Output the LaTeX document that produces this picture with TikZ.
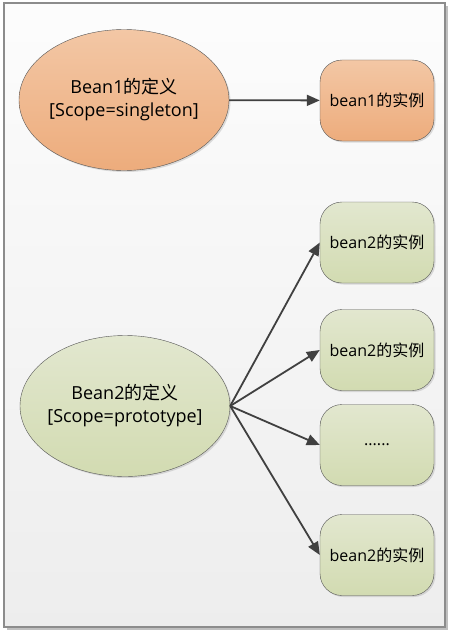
\documentclass[tikz,border=0pt]{standalone}
\usepackage{fontspec}
\setmainfont{Open Sans}
\newfontfamily\zh{Noto Sans CJK SC}
\usetikzlibrary{arrows.meta,shapes.geometric,shadows}
\definecolor{orangetop}{HTML}{F3C7A5}
\definecolor{orangebot}{HTML}{EDAC7C}
\definecolor{greentop}{HTML}{E2E7CF}
\definecolor{greenbot}{HTML}{D2DBB1}
\definecolor{edgegray}{HTML}{555555}
\definecolor{arrowgray}{HTML}{404040}
\tikzset{
	defnode/.style={ellipse, draw=edgegray, minimum width=210, minimum height=141, inner sep=-12pt, align=center, font=\fontsize{18}{23}\selectfont, drop shadow={opacity=0.25, shadow xshift=1.5pt, shadow yshift=-1.5pt}},
	instnode/.style={rectangle, rounded corners=22pt, draw=edgegray, minimum width=114, minimum height=81, inner sep=0pt, font=\fontsize{16}{19}\selectfont, drop shadow={opacity=0.25, shadow xshift=1.5pt, shadow yshift=-1.5pt}},
	orangefill/.style={top color=orangetop, bottom color=orangebot},
	greenfill/.style={top color=greentop, bottom color=greenbot},
	conn/.style={draw=arrowgray, line width=1.8pt, -{Triangle[length=13pt,width=11pt]}}
}
\begin{document}
\begin{tikzpicture}[x=1pt,y=-1pt]
			%%%%% START %%%%%
			
			\useasboundingbox (0, 0) rectangle (451, 634);
			
			\fill[black!25] (7, 6) rectangle (448, 630);
			\draw[line width=1.2pt, draw=black!45, top color=black!1, bottom color=black!7] (4, 3) rectangle (445, 627);
			
			\node[defnode, orangefill] (def1) at (124, 100) {Bean1{\zh 的定义}\\{}[Scope=singleton]};
			\node[instnode, orangefill] (inst1) at (377, 100.5) {bean1{\zh 的实例}};
			\draw[conn] (def1) -- (inst1);
			
			\node[defnode, greenfill] (def2) at (125, 406) {Bean2{\zh 的定义}\\{}[Scope=prototype]};
			\node[instnode, greenfill] (inst2a) at (377, 242.5) {bean2{\zh 的实例}};
			\node[instnode, greenfill] (inst2b) at (377, 350) {bean2{\zh 的实例}};
			\node[instnode, greenfill] (inst2c) at (377, 445) {......};
			\node[instnode, greenfill] (inst2d) at (377, 555) {bean2{\zh 的实例}};
			
			\foreach \n in {inst2a, inst2b, inst2c, inst2d}
				\draw[conn] (def2.east) -- (\n.west);
			
			%%%%% END %%%%%
\end{tikzpicture}
\end{document}
